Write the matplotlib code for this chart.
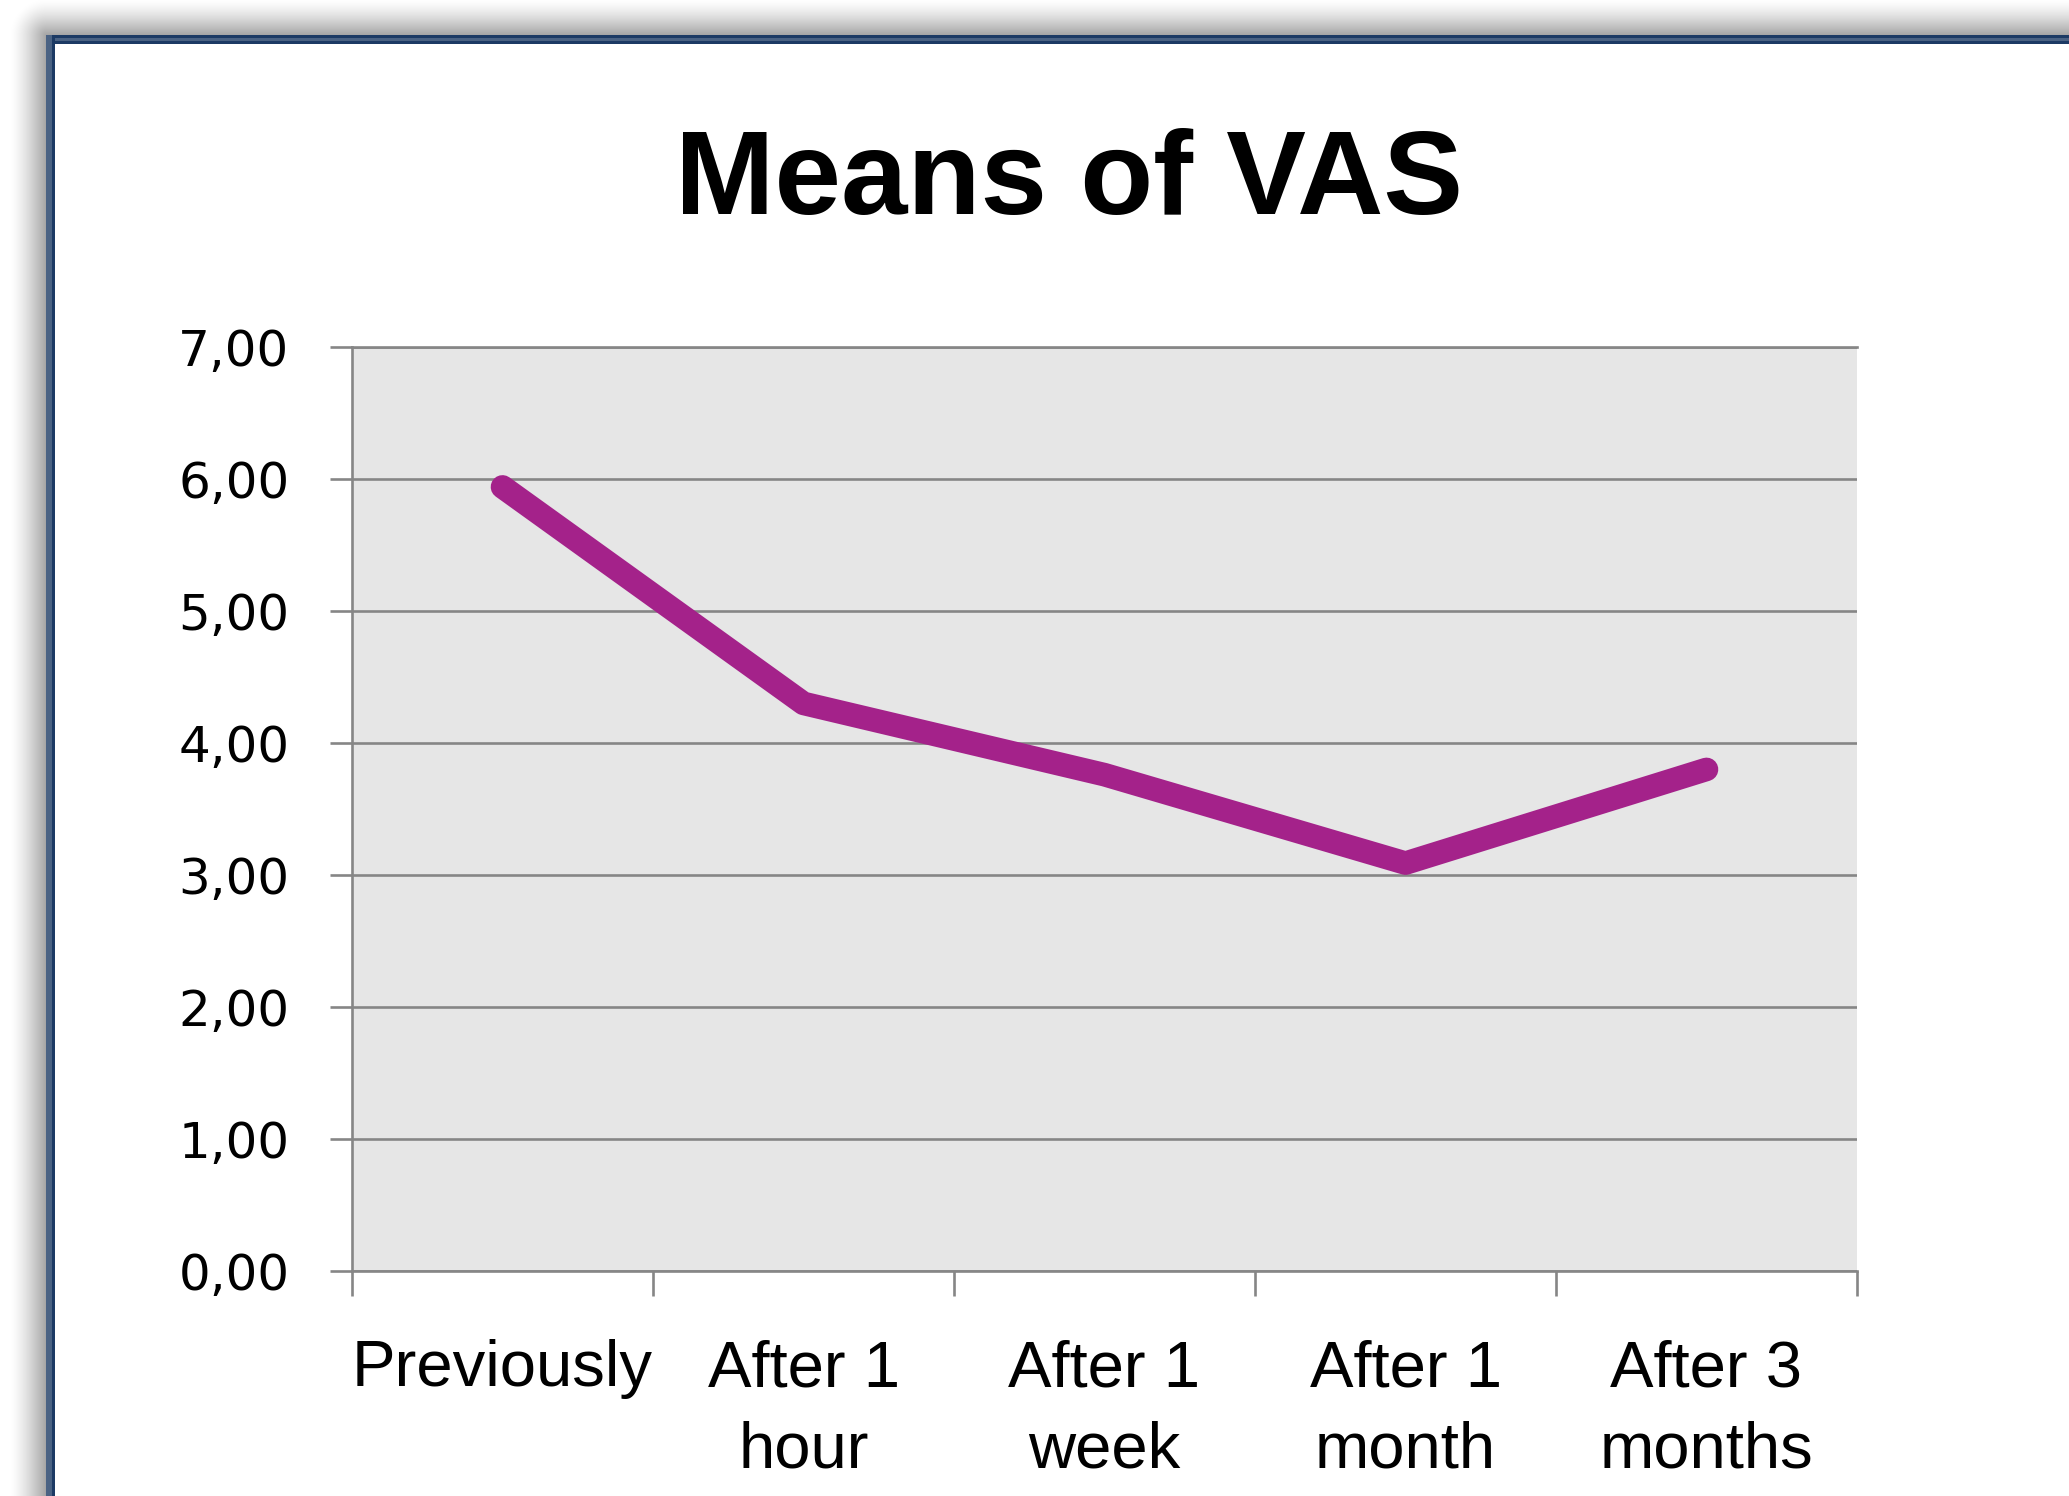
import matplotlib
matplotlib.use('Agg')
import matplotlib.pyplot as plt
import numpy as np

# data
categories = ['Previously', 'After 1\nhour', 'After 1\nweek', 'After 1\nmonth', 'After 3\nmonths']
vas_means = [5.94, 4.30, 3.76, 3.09, 3.80]
y_ticks = [0, 1, 2, 3, 4, 5, 6, 7]

W, H = 2069, 1496
fig = plt.figure(figsize=(W / 100, H / 100), dpi=100)
fig.patch.set_facecolor('white')

# background: white sheet with a soft shadow and a blue frame (cropped screenshot look)
yy, xx = np.mgrid[0:H, 0:W]
x0, y0 = 46, 35
d = np.hypot(np.clip(x0 - xx, 0, None), np.clip(y0 - yy, 0, None))
t = np.clip(d / 36.0, 0, 1)
shade = 1 - 0.36 * (1 - t) ** 1.4
shade[(xx >= x0) & (yy >= y0)] = 1.0
img = np.dstack([shade, shade, shade])
mid = np.array([0x4A, 0x62, 0x83]) / 255
dark = np.array([0x1C, 0x3A, 0x64]) / 255
img[35:38, 46:] = dark
img[38:41, 46:] = mid
img[41:44, 46:] = dark
img[35:, 46:52] = mid
img[35:, 52:55] = dark
fig.figimage(img, xo=0, yo=0, origin='upper', zorder=-10)

grid_c = '#868686'
ax = fig.add_axes([352 / W, 1 - 1271 / H, (1857 - 352) / W, (1271 - 347) / H])
ax.set_facecolor('#E6E6E6')

x = np.arange(len(categories))
ax.plot(x, vas_means, color='#A4228A', lw=17, solid_capstyle='round',
        solid_joinstyle='round', zorder=3)

ax.set_xlim(-0.5, len(categories) - 0.5)
ax.set_ylim(0, 7)

ax.set_yticks(y_ticks)
ax.set_yticklabels(['{:.2f}'.format(v).replace('.', ',') for v in y_ticks],
                   family='DejaVu Sans', fontsize=36)
ax.tick_params(axis='y', length=16, width=1.9, color=grid_c, pad=29)

ax.set_xticks(np.arange(-0.5, len(categories), 1))
ax.set_xticklabels([])
ax.tick_params(axis='x', which='major', length=18, width=1.9, color=grid_c)
ax.set_xticks(x, minor=True)
ax.set_xticklabels(categories, minor=True, family='Liberation Sans', fontsize=47,
                   linespacing=1.45)
ax.tick_params(axis='x', which='minor', length=0, pad=49)

ax.yaxis.grid(True, color=grid_c, lw=1.9)
ax.set_axisbelow(True)
for side in ['left', 'bottom', 'top']:
    ax.spines[side].set_color(grid_c)
    ax.spines[side].set_linewidth(1.9)
ax.spines['right'].set_visible(False)

fig.text(1069 / W, 1 - 214 / H, 'Means of VAS', ha='center', va='baseline',
         fontsize=86, fontweight='bold', family='Liberation Sans')

fig.savefig('out.png', dpi=100)
